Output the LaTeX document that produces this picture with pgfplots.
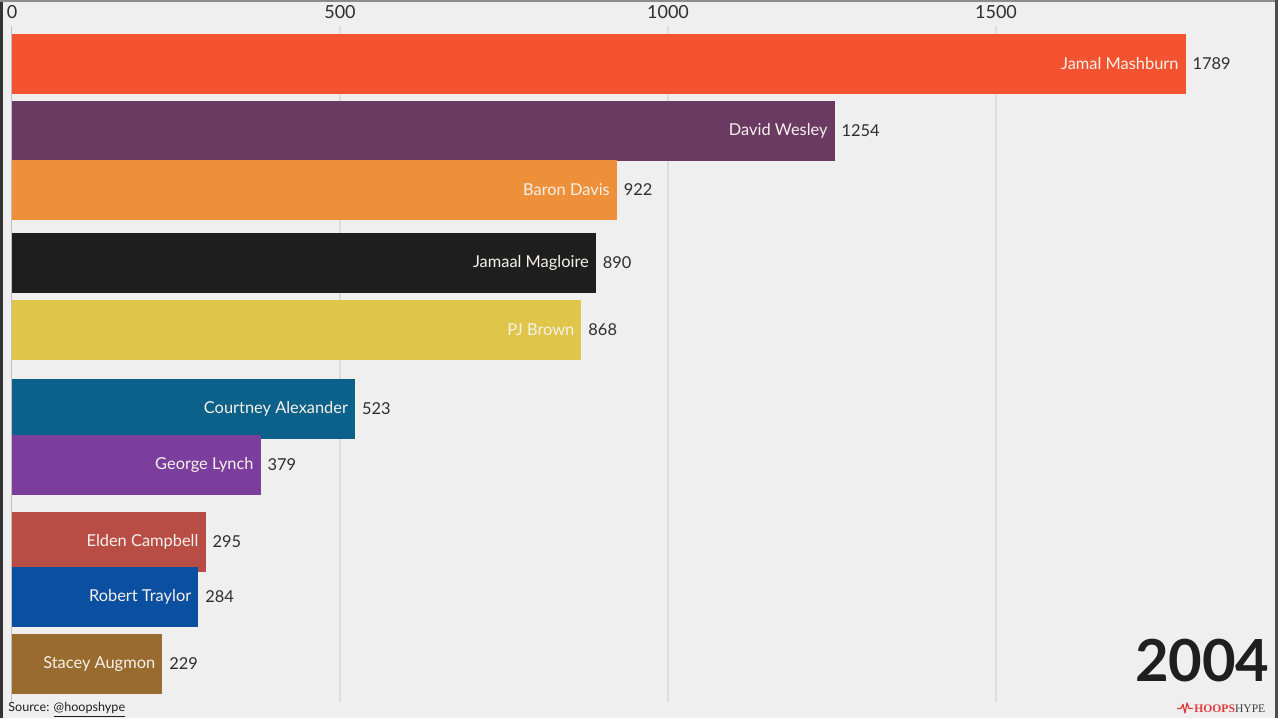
\documentclass[border=0pt]{standalone}
\usepackage{fontspec}
\setmainfont{Lato}
\newfontfamily\logofont{Liberation Serif}
\usepackage{pgfplots}
\pgfplotsset{compat=1.18}
\definecolor{bg}{HTML}{EFEFEF}
\definecolor{gridc}{HTML}{DDDDDD}
\definecolor{valc}{HTML}{2E2E2E}
\definecolor{namec}{HTML}{F6F1EA}
\definecolor{cMash}{HTML}{F5532F}
\definecolor{cWes}{HTML}{6B3A62}
\definecolor{cBar}{HTML}{EE8F3A}
\definecolor{cMag}{HTML}{1E1E1E}
\definecolor{cPJ}{HTML}{E0C54B}
\definecolor{cCou}{HTML}{0B6189}
\definecolor{cGeo}{HTML}{7B3E9D}
\definecolor{cEld}{HTML}{B84D46}
\definecolor{cRob}{HTML}{0B50A0}
\definecolor{cSta}{HTML}{9A6B2F}
\definecolor{logored}{HTML}{E5383B}
\begin{document}
\begin{tikzpicture}
% 1 px = 0.5pt, picture 1278 x 718 px
\fill[bg] (0,0) rectangle (639pt,359pt);
\useasboundingbox (0,0) rectangle (639pt,359pt);
\fill[black!80] (0,0) rectangle (1.5pt,359pt);
\draw[black!45, line width=0.8pt] (0,358.6pt) -- (639pt,358.6pt);
\fill[black!70] (637.5pt,0) rectangle (639pt,359pt);
% grid lines behind bars
\foreach \gx in {170,334,498}
  \draw[gridc, line width=0.8pt] (\gx pt,346pt) -- (\gx pt,8pt);
\draw[black!25, line width=0.5pt] (5.6pt,346pt) -- (5.6pt,8pt);
\begin{axis}[
  at={(0,0)}, anchor=south west,
  width=639pt, height=359pt, scale only axis,
  xmin=-18.29, xmax=1929.88,
  ymin=0, ymax=718, y dir=reverse,
  axis line style={draw=none},
  ytick=\empty,
  xtick={0,500,1000,1500},
  xticklabel pos=upper,
  major tick length=0pt,
  /pgf/number format/assume math mode=true,
  /pgf/number format/1000 sep={},
  xticklabel style={anchor=north, font=\fontsize{9}{11}\selectfont, text=valc, yshift=1pt},
  xbar, bar width=60, bar shift=0pt, clip=false,
  nodes near coords,
  every node near coord/.style={anchor=west, font=\fontsize{8.2}{10}\selectfont, text=valc},
]
\addplot[fill=cMash, draw=none, bar shift=0pt] coordinates {(1789,64)};
\addplot[fill=cWes, draw=none, bar shift=0pt] coordinates {(1254,131)};
\addplot[fill=cBar, draw=none, bar shift=0pt] coordinates {(922,190)};
\addplot[fill=cMag, draw=none, bar shift=0pt] coordinates {(890,263)};
\addplot[fill=cPJ, draw=none, bar shift=0pt] coordinates {(868,330)};
\addplot[fill=cCou, draw=none, bar shift=0pt] coordinates {(523,409)};
\addplot[fill=cGeo, draw=none, bar shift=0pt] coordinates {(379,465)};
\addplot[fill=cEld, draw=none, bar shift=0pt] coordinates {(295,542)};
\addplot[fill=cRob, draw=none, bar shift=0pt] coordinates {(284,597)};
\addplot[fill=cSta, draw=none, bar shift=0pt] coordinates {(229,664)};
\begin{scope}[every node/.style={anchor=east, text=namec, font=\fontsize{8.2}{10}\selectfont}]
\node at (axis cs:1789,64) {Jamal Mashburn};
\node at (axis cs:1254,131) {David Wesley};
\node at (axis cs:922,190) {Baron Davis};
\node at (axis cs:890,263) {Jamaal Magloire};
\node at (axis cs:868,330) {PJ Brown};
\node at (axis cs:523,409) {Courtney Alexander};
\node at (axis cs:379,465) {George Lynch};
\node at (axis cs:295,542) {Elden Campbell};
\node at (axis cs:284,597) {Robert Traylor};
\node at (axis cs:229,664) {Stacey Augmon};
\end{scope}
\end{axis}
% year, source, logo
\node[font=\bfseries\fontsize{29}{31}\selectfont, text=black!88, anchor=east, inner sep=0pt] at (635pt,28.5pt) {2004};
\node[font=\fontsize{6.3}{7}\selectfont, text=black!88, anchor=west, inner sep=0pt] at (4pt,4pt) {Source: \underline{@hoopshype}};
\draw[logored, line width=0.6pt, line join=round] (588.5pt,4.8pt) -- (590.5pt,4.8pt) -- (591.5pt,6.8pt) -- (592.5pt,2.5pt) -- (593.5pt,7.5pt) -- (594.5pt,4.8pt) -- (596.5pt,4.8pt);
\node[anchor=west, inner sep=0pt, font=\logofont\fontsize{5.8}{6}\selectfont] at (597pt,4.6pt) {\textcolor{logored}{\textbf{HOOPS}}\textcolor{black!75}{HYPE}};
\end{tikzpicture}
\end{document}
